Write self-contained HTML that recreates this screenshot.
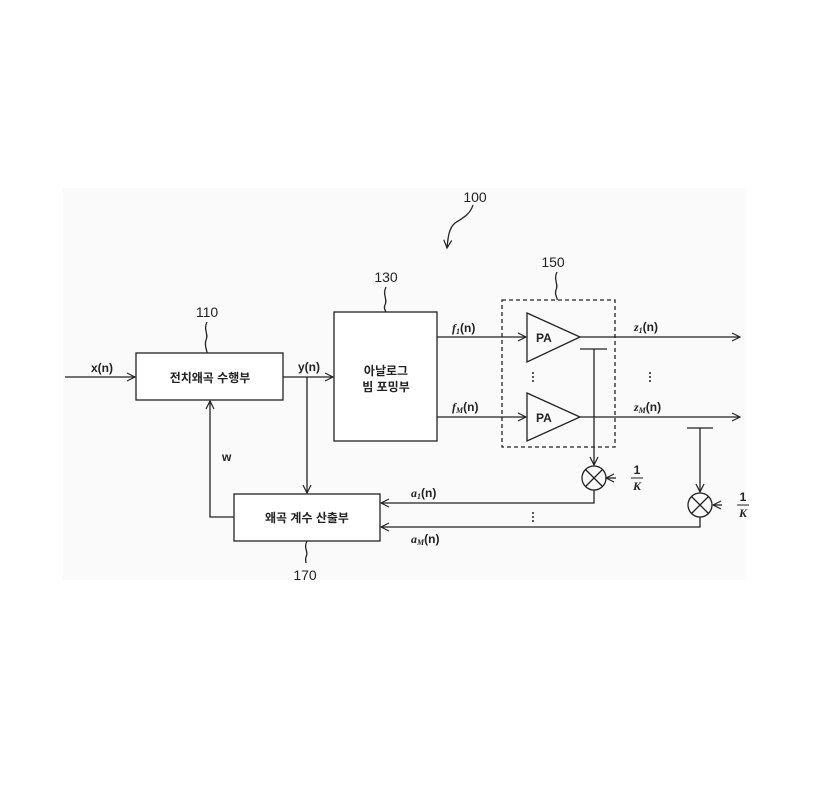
<!DOCTYPE html><html><head><meta charset="utf-8"><style>body{margin:0;background:#fff}svg{display:block}
text{font-family:"Liberation Sans","Noto Sans CJK KR",sans-serif;font-size:12px;fill:#222}
.k{font-weight:bold}.i{font-family:"Liberation Serif",serif;font-style:italic;font-weight:bold}.n{font-size:14px}</style></head><body>
<svg width="824" height="787" viewBox="0 0 824 787">
<defs><marker id="a" markerWidth="10" markerHeight="10" refX="9" refY="5" orient="auto" markerUnits="userSpaceOnUse"><path d="M1,1 L9,5 L1,9" fill="none" stroke="#222" stroke-width="1.2"/></marker></defs>
<rect x="63" y="188" width="683" height="392" fill="#fafafa"/>
<g stroke="#222" stroke-width="1.3" fill="none">
<rect x="136" y="353" width="147" height="47" fill="#fff"/>
<rect x="334" y="312" width="103" height="129" fill="#fff"/>
<rect x="234" y="494" width="146" height="47" fill="#fff"/>
<rect x="502" y="300" width="113" height="147" stroke-dasharray="4,3"/>
<path d="M527,313 L580,337 L527,362Z"/><path d="M527,393 L580,417 L527,441Z"/>
<line x1="65" y1="377" x2="135" y2="377" marker-end="url(#a)"/>
<line x1="283" y1="377" x2="333" y2="377" marker-end="url(#a)"/>
<line x1="307" y1="377" x2="307" y2="493" marker-end="url(#a)"/>
<path d="M234,517 H210 V401" marker-end="url(#a)"/>
<line x1="437" y1="337" x2="526" y2="337" marker-end="url(#a)"/>
<line x1="437" y1="417" x2="526" y2="417" marker-end="url(#a)"/>
<line x1="580" y1="337" x2="740" y2="337" marker-end="url(#a)"/>
<line x1="580" y1="417" x2="740" y2="417" marker-end="url(#a)"/>
<line x1="580" y1="349" x2="607" y2="349"/><line x1="594" y1="349" x2="594" y2="465" marker-end="url(#a)"/>
<circle cx="594" cy="478" r="12"/><path d="M585.5,469.5 L602.5,486.5 M602.5,469.5 L585.5,486.5"/>
<path d="M594,490 V503 H381" marker-end="url(#a)"/>
<line x1="687" y1="428" x2="713" y2="428"/><line x1="700" y1="428" x2="700" y2="492" marker-end="url(#a)"/>
<circle cx="700" cy="505" r="12"/><path d="M691.5,496.5 L708.5,513.5 M708.5,496.5 L691.5,513.5"/>
<path d="M700,517 V527 H381" marker-end="url(#a)"/>
<line x1="616" y1="478" x2="606" y2="478" marker-end="url(#a)"/>
<line x1="722" y1="505" x2="713" y2="505" marker-end="url(#a)"/>
<path d="M473,205 c-3,10 -12,14 -18,18 c-6,5 -7,14 -8,25" marker-end="url(#a)"/>
<path d="M557,272 c-4,8 2,12 -1,18 c-2,5 2,8 1,10"/>
<path d="M386,287 c-4,8 2,12 -1,18 c-2,4 1,6 1,7"/>
<path d="M207,322 c-4,8 2,12 -1,18 c-2,6 1,9 1,13"/>
<path d="M307,541 c-4,8 2,10 -1,16 c-1,3 0,4 0,6"/>
</g>
<g fill="#222"><circle cx="533" cy="373" r="1"/><circle cx="533" cy="377" r="1"/><circle cx="533" cy="381" r="1"/>
<circle cx="650" cy="373" r="1"/><circle cx="650" cy="377" r="1"/><circle cx="650" cy="381" r="1"/>
<circle cx="533" cy="513" r="1"/><circle cx="533" cy="517" r="1"/><circle cx="533" cy="521" r="1"/></g>
<text x="475" y="202" text-anchor="middle" class="n">100</text>
<text x="553" y="267" text-anchor="middle" class="n">150</text>
<text x="386" y="282" text-anchor="middle" class="n">130</text>
<text x="207" y="317" text-anchor="middle" class="n">110</text>
<text x="305" y="580" text-anchor="middle" class="n">170</text>
<text x="210" y="382" text-anchor="middle" class="k">전치왜곡 수행부</text>
<text x="386" y="375" text-anchor="middle" class="k">아날로그</text>
<text x="386" y="391" text-anchor="middle" class="k">빔 포밍부</text>
<text x="307" y="522" text-anchor="middle" class="k">왜곡 계수 산출부</text>
<text x="102" y="372" text-anchor="middle" class="k" font-size="11">x(n)</text>
<text x="309" y="371" text-anchor="middle" class="k" font-size="11">y(n)</text>
<text x="222" y="461" class="k" font-size="11">w</text>
<text x="536" y="342" class="k" font-size="11">PA</text>
<text x="536" y="422" class="k" font-size="11">PA</text>
<text x="452" y="332" class="i">f<tspan font-size="8" dy="2">1</tspan><tspan class="k" font-style="normal" font-family="Liberation Sans" dy="-2">(n)</tspan></text>
<text x="452" y="411" class="i">f<tspan font-size="8" dy="2">M</tspan><tspan font-style="normal" font-family="Liberation Sans" dy="-2">(n)</tspan></text>
<text x="634" y="331" class="i">z<tspan font-size="8" dy="2">1</tspan><tspan font-style="normal" font-family="Liberation Sans" dy="-2">(n)</tspan></text>
<text x="634" y="411" class="i">z<tspan font-size="8" dy="2">M</tspan><tspan font-style="normal" font-family="Liberation Sans" dy="-2">(n)</tspan></text>
<text x="411" y="497" class="i">a<tspan font-size="8" dy="2">1</tspan><tspan font-style="normal" font-family="Liberation Sans" dy="-2">(n)</tspan></text>
<text x="411" y="543" class="i">a<tspan font-size="8" dy="2">M</tspan><tspan font-style="normal" font-family="Liberation Sans" dy="-2">(n)</tspan></text>
<text x="637" y="474" text-anchor="middle" class="k" font-size="10">1</text>
<line x1="631" y1="478" x2="643" y2="478" stroke="#222"/>
<text x="637" y="490" text-anchor="middle" class="i" font-size="11">K</text>
<text x="743" y="501" text-anchor="middle" class="k" font-size="10">1</text>
<line x1="737" y1="505" x2="749" y2="505" stroke="#222"/>
<text x="743" y="517" text-anchor="middle" class="i" font-size="11">K</text>
</svg></body></html>
